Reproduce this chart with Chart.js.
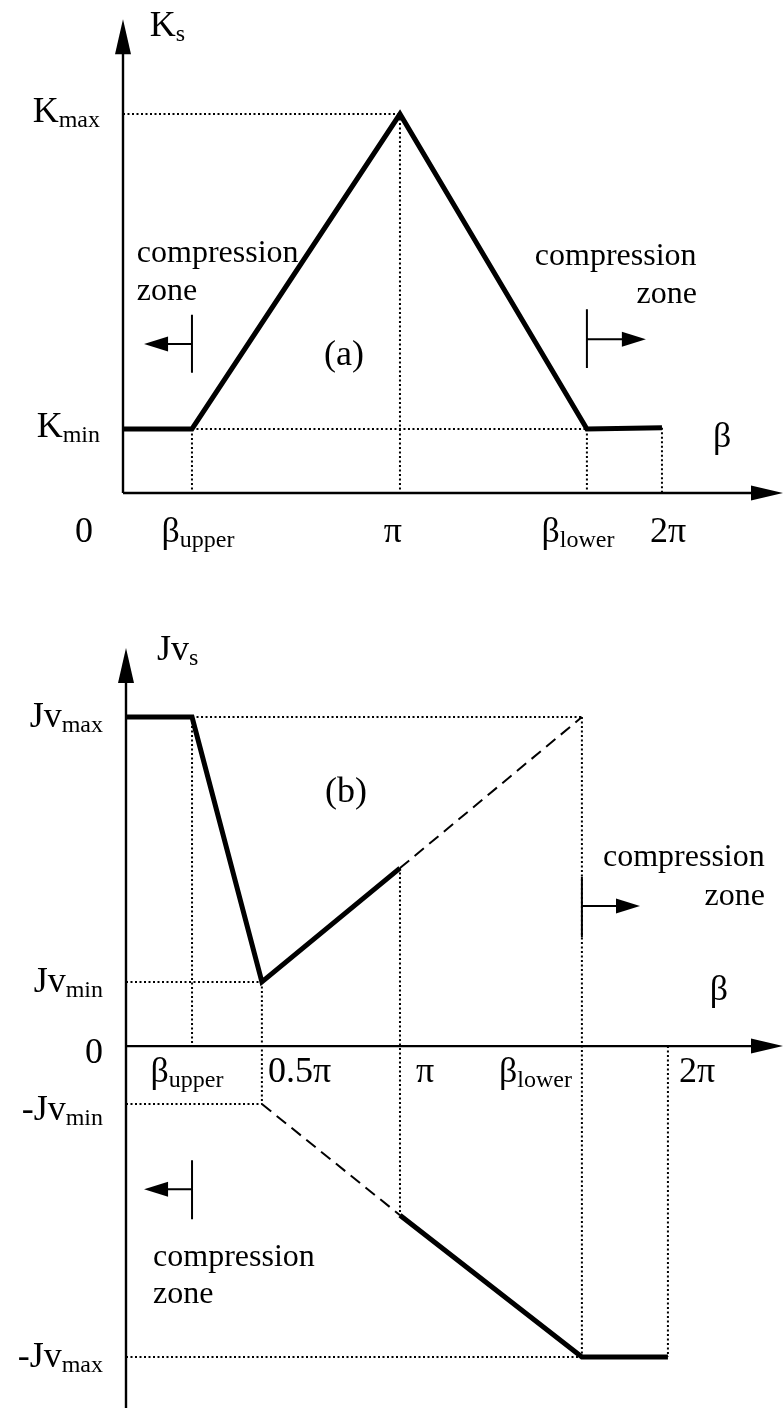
<!DOCTYPE html>
<html>
<head>
<meta charset="utf-8">
<title>Ks and Jvs over beta</title>
<script src="https://cdn.jsdelivr.net/npm/chart.js@4.4.0/dist/chart.umd.min.js"></script>
<style>
  html, body { margin: 0; padding: 0; background: #fff; }
  #wrap { position: relative; width: 783px; height: 1408px; }
  canvas { position: absolute; left: 0; }
  #chartA { top: 0; }
  #chartB { top: 600px; }
</style>
</head>
<body>
<div id="wrap">
  <canvas id="chartA" width="783" height="600"></canvas>
  <canvas id="chartB" width="783" height="808"></canvas>
</div>
<script>
// β is given in multiples of π

// (a) Ks
const betaA = [0, 0.249, 1, 1.675, 1.946];
const ksA = [0.169, 0.169, 1, 0.169, 0.172];
const tickLabelsA = [['0', ''], ['β', 'upper'], ['π', ''], ['β', 'lower'], ['2π', '']];
const levelsA = [1, 0.169];
const levelLabelsA = [['K', 'max'], ['K', 'min']];

// (b) Jvs
const betaB = [0, 0.241, 0.496, 1, 1.664, 1.978];
const tickLabelsB = [['', ''], ['β', 'upper'], ['0.5π', ''], ['π', ''], ['β', 'lower'], ['2π', '']];
const jvUpperBeta = [0, 0.241, 0.496, 1];
const jvUpper = [1, 1, 0.195, 0.541];
const jvUpperDashBeta = [1, 1.664];
const jvUpperDash = [0.541, 1];
const jvLowerDashBeta = [0.496, 1];
const jvLowerDash = [-0.176, -0.514];
const jvLowerBeta = [1, 1.664, 1.978];
const jvLower = [-0.514, -0.945, -0.945];
const levelsB = [1, 0.195, 0, -0.176, -0.945];
const levelLabelsB = [['Jv', 'max'], ['Jv', 'min'], ['0', ''], ['-Jv', 'min'], ['-Jv', 'max']];

const FONT = '"Liberation Serif", "Times New Roman", serif';
const MAIN = 36;
const SUB = 24;
const NOTE = 32;

const pts = (xs, ys) => xs.map((x, i) => ({ x, y: ys[i] }));
const seg = (x0, y0, x1, y1) => [{ x: x0, y: y0 }, { x: x1, y: y1 }];

const solid = (data) => ({
  data, borderColor: '#000', borderWidth: 5, pointRadius: 0,
  borderJoinStyle: 'miter', borderCapStyle: 'butt', clip: false, order: 0,
});
const dashed = (data) => ({
  data, borderColor: '#000', borderWidth: 2, borderDash: [12, 7], pointRadius: 0, clip: false, order: 1,
});
const dotted = (data) => ({
  data, borderColor: '#000', borderWidth: 2, borderDash: [2, 2.5], pointRadius: 0, clip: false, order: 2,
});

function drawRich(ctx, label, x, y, align, size = MAIN, subSize = SUB) {
  ctx.font = `${size}px ${FONT}`;
  const w1 = ctx.measureText(label[0]).width;
  ctx.font = `${subSize}px ${FONT}`;
  const w2 = label[1] ? ctx.measureText(label[1]).width : 0;
  let x0 = x;
  if (align === 'right') x0 = x - w1 - w2;
  else if (align === 'center') x0 = x - (w1 + w2) / 2;
  ctx.textAlign = 'left';
  ctx.textBaseline = 'alphabetic';
  ctx.fillStyle = '#000';
  ctx.font = `${size}px ${FONT}`;
  ctx.fillText(label[0], x0, y);
  if (label[1]) {
    ctx.font = `${subSize}px ${FONT}`;
    ctx.fillText(label[1], x0 + w1, y + 5);
  }
}

function arrowHead(ctx, tx, ty, dx, dy, len, half) {
  const bx = tx - dx * len, by = ty - dy * len;
  ctx.beginPath();
  ctx.moveTo(tx, ty);
  ctx.lineTo(bx - dy * half, by + dx * half);
  ctx.lineTo(bx + dy * half, by - dx * half);
  ctx.closePath();
  ctx.fill();
}

// axes with arrows, labels, notes and compression-zone markers
const sketchPlugin = {
  id: 'sketch',
  beforeDatasetsDraw(chart) {
    const { ctx, scales: { x, y } } = chart;
    const ox = x.getPixelForValue(0), oy = y.getPixelForValue(0);
    const top = y.getPixelForValue(y.max), bottom = y.getPixelForValue(y.min);
    const right = x.getPixelForValue(x.max);
    ctx.save();
    ctx.strokeStyle = '#000';
    ctx.fillStyle = '#000';
    ctx.lineWidth = 2.4;
    ctx.beginPath(); ctx.moveTo(ox, bottom); ctx.lineTo(ox, top + 30); ctx.stroke();
    ctx.beginPath(); ctx.moveTo(ox, oy); ctx.lineTo(right - 26, oy); ctx.stroke();
    arrowHead(ctx, ox, top, 0, -1, 35, 8);
    arrowHead(ctx, right, oy, 1, 0, 32, 7.5);
    ctx.restore();
  },
  afterDatasetsDraw(chart, args, opts) {
    const { ctx, scales: { x, y } } = chart;
    const ox = x.getPixelForValue(0), oy = y.getPixelForValue(0);
    ctx.save();

    // β tick labels under the axis
    opts.ticks.forEach((v, i) => {
      const lab = opts.tickLabels[i];
      if (!lab[0]) return;
      drawRich(ctx, lab, x.getPixelForValue(v) + opts.tickNudge[i], oy + opts.tickDrop, opts.tickAlign[i]);
    });

    // level labels left of the y axis
    opts.levels.forEach((v, i) => {
      drawRich(ctx, opts.levelLabels[i], ox - 23, y.getPixelForValue(v) + opts.levelDrop[i], 'right');
    });

    // axis titles
    drawRich(ctx, opts.title, x.getPixelForValue(opts.titleAt[0]), y.getPixelForValue(opts.titleAt[1]), 'left', MAIN, SUB);
    drawRich(ctx, ['β', ''], x.getPixelForValue(opts.betaAt[0]), y.getPixelForValue(opts.betaAt[1]), 'left');

    // free text
    opts.notes.forEach((n) => {
      drawRich(ctx, [n.text, ''], x.getPixelForValue(n.x), y.getPixelForValue(n.y), n.align, n.size);
    });

    // compression zone markers
    ctx.strokeStyle = '#000';
    ctx.fillStyle = '#000';
    ctx.lineWidth = 2;
    opts.zones.forEach((z) => {
      const bx = x.getPixelForValue(z.x);
      const ay = y.getPixelForValue(z.ya);
      const tx = x.getPixelForValue(z.tip);
      const dir = tx > bx ? 1 : -1;
      ctx.beginPath();
      ctx.moveTo(bx, y.getPixelForValue(z.y0));
      ctx.lineTo(bx, y.getPixelForValue(z.y1));
      ctx.moveTo(bx, ay);
      ctx.lineTo(tx - dir * 20, ay);
      ctx.stroke();
      arrowHead(ctx, tx, ay, dir, 0, 24, 7.5);
    });
    ctx.restore();
  },
};

const baseOptions = (xMax, yMin, yMax, padding) => ({
  responsive: false,
  animation: false,
  devicePixelRatio: 1,
  layout: { padding, autoPadding: false },
  scales: {
    x: { type: 'linear', min: 0, max: xMax, display: false },
    y: { type: 'linear', min: yMin, max: yMax, display: false },
  },
  plugins: { legend: { display: false }, tooltip: { enabled: false } },
  elements: { line: { tension: 0 } },
});

// ===== (a) =====
const kMax = levelsA[0], kMin = levelsA[1];
const guidesA = [
  dotted(seg(0, kMax, betaA[2], kMax)),
  dotted(seg(betaA[1], kMin, betaA[3], kMin)),
  ...[1, 2, 3, 4].map((i) => dotted(seg(betaA[i], ksA[i], betaA[i], 0))),
];

const optsA = baseOptions(2.383, 0, 1.25, { left: 123, right: 0, top: 19.25, bottom: 107 });
optsA.plugins.sketch = {
  ticks: betaA,
  tickLabels: tickLabelsA,
  tickAlign: ['right', 'center', 'center', 'center', 'center'],
  tickNudge: [-30, 6, -7, -9, 6],
  tickDrop: 49,
  levels: levelsA,
  levelLabels: levelLabelsA,
  levelDrop: [8, 8],
  title: ['K', 's'],
  titleAt: [0.097, 1.206],
  betaAt: [2.13, 0.121],
  notes: [
    { text: 'compression', x: 0.05, y: 0.61, align: 'left', size: NOTE },
    { text: 'zone', x: 0.05, y: 0.509, align: 'left', size: NOTE },
    { text: '(a)', x: 0.726, y: 0.338, align: 'left', size: MAIN },
    { text: 'compression', x: 1.487, y: 0.602, align: 'left', size: NOTE },
    { text: 'zone', x: 2.072, y: 0.501, align: 'right', size: NOTE },
  ],
  zones: [
    { x: betaA[1], y0: 0.317, y1: 0.47, ya: 0.393, tip: 0.076 },
    { x: betaA[3], y0: 0.33, y1: 0.485, ya: 0.406, tip: 1.888 },
  ],
};

new Chart(document.getElementById('chartA'), {
  type: 'line',
  data: { datasets: [solid(pts(betaA, ksA)), ...guidesA] },
  options: optsA,
  plugins: [sketchPlugin],
});

// ===== (b) =====
const [jvMax, jvMin, , jvMinNeg, jvMaxNeg] = levelsB;
const guidesB = [
  dotted(seg(betaB[1], jvMax, betaB[4], jvMax)),
  dotted(seg(0, jvMin, betaB[2], jvMin)),
  dotted(seg(0, jvMinNeg, betaB[2], jvMinNeg)),
  dotted(seg(0, jvMaxNeg, betaB[4], jvMaxNeg)),
  dotted(seg(betaB[1], jvMax, betaB[1], 0)),
  dotted(seg(betaB[2], jvMin, betaB[2], jvMinNeg)),
  dotted(seg(betaB[3], jvUpper[3], betaB[3], jvLower[0])),
  dotted(seg(betaB[4], jvMax, betaB[4], jvMaxNeg)),
  dotted(seg(betaB[5], 0, betaB[5], jvMaxNeg)),
];

const optsB = baseOptions(2.398, -1.1, 1.21, { left: 126, right: 0, top: 48, bottom: 0 });
optsB.plugins.sketch = {
  ticks: betaB,
  tickLabels: tickLabelsB,
  tickAlign: ['center', 'center', 'left', 'left', 'right', 'left'],
  tickNudge: [0, -5, 6, 16, -10, 11],
  tickDrop: 36,
  levels: levelsB,
  levelLabels: levelLabelsB,
  levelDrop: [10, 10, 17, 16, 10],
  title: ['Jv', 's'],
  titleAt: [0.113, 1.173],
  betaAt: [2.131, 0.14],
  notes: [
    { text: '(b)', x: 0.726, y: 0.742, align: 'left', size: MAIN },
    { text: 'compression', x: 1.741, y: 0.547, align: 'left', size: NOTE },
    { text: 'zone', x: 2.332, y: 0.429, align: 'right', size: NOTE },
    { text: 'compression', x: 0.099, y: -0.669, align: 'left', size: NOTE },
    { text: 'zone', x: 0.099, y: -0.781, align: 'left', size: NOTE },
  ],
  zones: [
    { x: betaB[4], y0: 0.514, y1: 0.331, ya: 0.426, tip: 1.876 },
    { x: betaB[1], y0: -0.347, y1: -0.526, ya: -0.435, tip: 0.066 },
  ],
};

new Chart(document.getElementById('chartB'), {
  type: 'line',
  data: {
    datasets: [
      solid(pts(jvUpperBeta, jvUpper)),
      solid(pts(jvLowerBeta, jvLower)),
      dashed(pts(jvUpperDashBeta, jvUpperDash)),
      dashed(pts(jvLowerDashBeta, jvLowerDash)),
      ...guidesB,
    ],
  },
  options: optsB,
  plugins: [sketchPlugin],
});
</script>
</body>
</html>
